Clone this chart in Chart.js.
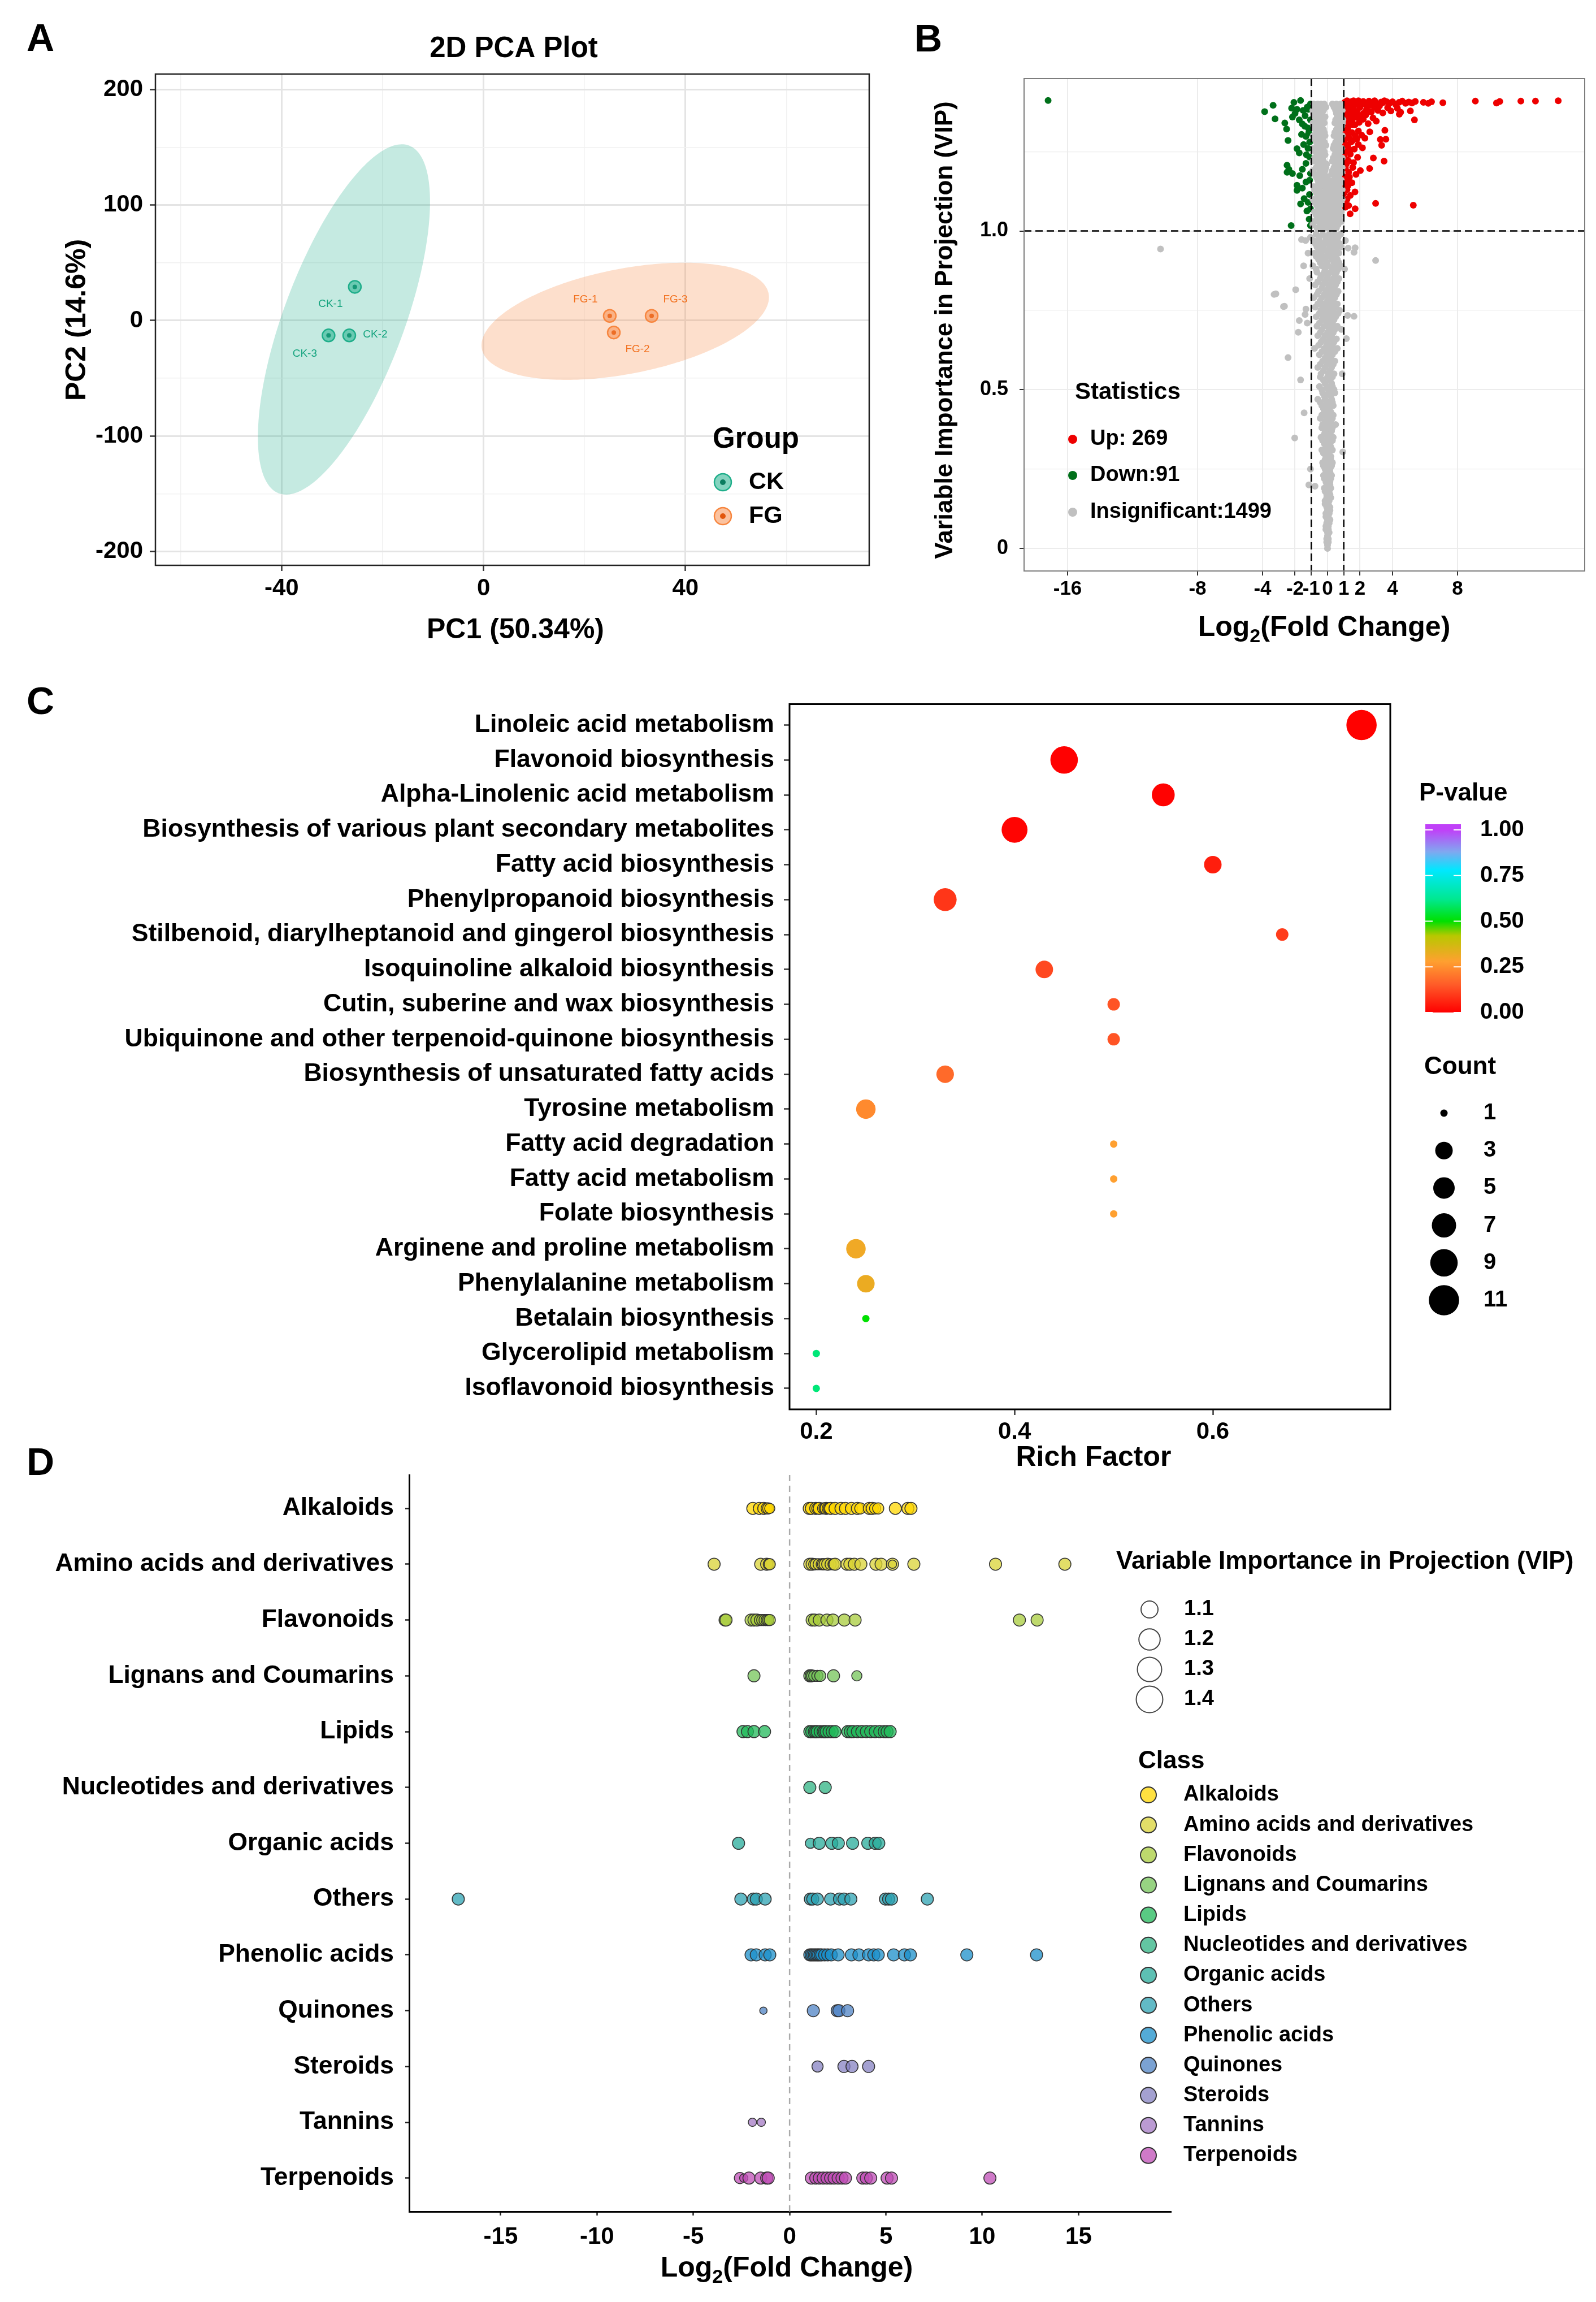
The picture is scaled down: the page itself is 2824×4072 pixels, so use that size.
<!DOCTYPE html>
<html>
<head>
<meta charset="utf-8">
<title>Metabolomics figure</title>
<script src="https://cdn.jsdelivr.net/npm/chart.js@4.4.1/dist/chart.umd.min.js"></script>
<style>
  html, body { margin:0; padding:0; background:#ffffff; }
  #figure { position:relative; width:2824px; height:4072px; background:#ffffff; overflow:hidden; }
  #figure canvas { position:absolute; }
</style>
</head>
<body>
<div id="figure">
  <canvas id="panelA" width="1580" height="1170" style="left:0px;top:0px;width:1580px;height:1170px"></canvas>
  <canvas id="panelB" width="1244" height="1170" style="left:1580px;top:0px;width:1244px;height:1170px"></canvas>
  <canvas id="panelC" width="2824" height="1440" style="left:0px;top:1180px;width:2824px;height:1440px"></canvas>
  <canvas id="panelD" width="2824" height="1532" style="left:0px;top:2540px;width:2824px;height:1532px"></canvas>
</div>
<script>
// ======================= DATA =======================
// ---- Panel A : PCA ----
const pcaSamples = ['CK-1','CK-2','CK-3','FG-1','FG-2','FG-3'];
const pcaGroups = ['CK','FG'];
const pcaGroupOf = ['CK','CK','CK','FG','FG','FG'];
const pc1Values = [-25.5,-26.6,-30.7,25.0,25.8,33.3];
const pc2Values = [29.1,-12.9,-12.9,4.0,-10.4,4.0];
const ellipseCentres = [[-27.65,0.9],[28.07,-0.7]];          // CK, FG
const ellipseSpreads = [[17.05,151.6,0.672],[28.47,50.7,0.41]]; // sdX, sdY, correlation
const pcaXTicks = [-60,-40,-20,0,20,40,60];
const pcaXLabelled = [-40,0,40];
const pcaYTicks = [-200,-150,-100,-50,0,50,100,150,200];
const pcaYLabelled = [-200,-100,0,100,200];

// ---- Panel B : VIP volcano ----
const volcanoXTicks = [-16,-8,-4,-2,-1,0,1,2,4,8];
const volcanoYTicks = [0,0.25,0.5,0.75,1.0,1.25];
const volcanoYLabelled = [0,0.5,1.0];
const volcanoYLabelText = ['0','0.5','1.0'];
const fcThresholds = [-1,1];
const vipThreshold = [1.0];
const statLabels = ['Up: 269','Down:91','Insignificant:1499'];
const upPoints = [
 [1.05,1.405],[1.2,1.41],[1.35,1.402],[1.5,1.408],[1.7,1.398],[1.9,1.41],[2.1,1.404],[2.3,1.4],[2.55,1.409],[2.8,1.403],
 [3.0,1.397],[3.3,1.406],[3.5,1.41],[3.8,1.401],[4.0,1.407],[4.2,1.398],[4.4,1.405],[4.6,1.409],[4.8,1.402],[5.0,1.406],
 [5.2,1.403],[5.4,1.408],[5.9,1.405],[6.2,1.402],[6.4,1.407],[7.1,1.404],[9.1,1.409],[10.4,1.403],[10.6,1.408],[11.9,1.409],
 [12.8,1.409],[14.2,1.41],
 [1.0,1.385],[1.15,1.378],[1.3,1.39],[1.45,1.372],[1.6,1.386],[1.8,1.376],[2.0,1.389],[2.2,1.37],[2.4,1.383],[2.7,1.375],
 [2.9,1.39],[3.1,1.38],[3.4,1.372],[3.7,1.388],[3.9,1.378],[4.3,1.386],[4.5,1.374],[5.1,1.378],[4.42,1.368],[2.6,1.395],
 [1.4,1.395],[3.2,1.394],
 [1.05,1.355],[1.2,1.34],[1.4,1.35],[1.55,1.335],[1.75,1.358],[1.95,1.342],[2.2,1.352],[2.5,1.338],[2.8,1.356],[3.0,1.346],
 [5.35,1.35],[1.1,1.33],[1.6,1.36],[2.35,1.365],[1.3,1.362],
 [1.0,1.318],[1.15,1.305],[1.3,1.295],[1.5,1.31],[1.7,1.3],[1.9,1.315],[2.1,1.302],[2.3,1.292],[2.6,1.312],[3.53,1.317],
 [3.25,1.288],[3.59,1.289],[1.25,1.325],
 [1.05,1.278],[1.25,1.265],[1.45,1.28],[1.65,1.258],[1.9,1.272],[2.15,1.262],[3.33,1.27],[1.1,1.25],
 [1.0,1.238],[1.2,1.225],[1.4,1.242],[1.6,1.215],[1.85,1.232],[2.82,1.23],[3.48,1.22],[1.15,1.21],
 [1.1,1.198],[1.3,1.185],[1.55,1.2],[1.75,1.178],[2.02,1.19],[2.59,1.197],[1.05,1.17],
 [1.05,1.158],[1.25,1.142],[1.5,1.152],[1.69,1.123],[1.2,1.13],
 [1.0,1.118],[1.2,1.1],[1.4,1.112],
 [1.1,1.075],[1.39,1.054],[2.96,1.087],[5.28,1.081],[1.7,1.07],
 [1.1,1.398],[1.25,1.395],[1.45,1.4],[1.6,1.41],[1.8,1.404],[2.0,1.398],[2.2,1.408],[2.45,1.4],[2.7,1.405],[2.9,1.41],
 [3.15,1.4],[3.4,1.404],[3.65,1.407],[1.05,1.37],[1.25,1.352],[1.5,1.345],[1.7,1.335],[1.85,1.365],[2.05,1.355],[2.5,1.375],
 [1.1,1.29],[1.35,1.31],[1.55,1.285],[1.8,1.29],[1.2,1.27],[1.4,1.255],[1.3,1.22],[1.05,1.2],[1.2,1.16],[1.35,1.17],
 [1.1,1.14],[1.05,1.09],[1.3,1.08]
];
const downPoints = [
 [-17.2,1.411],[-3.87,1.376],[-3.35,1.396],[-3.23,1.353],[-2.63,1.34],[-2.52,1.321],[-2.43,1.285],[-2.21,1.387],[-2.07,1.405],
 [-1.66,1.411],[-2.16,1.359],[-1.88,1.383],[-1.74,1.35],[-1.55,1.337],[-1.38,1.363],[-1.33,1.298],[-1.19,1.383],[-1.6,1.304],
 [-1.88,1.259],[-1.74,1.246],[-1.47,1.272],[-2.49,1.207],[-2.38,1.194],[-2.49,1.185],[-2.16,1.181],[-1.55,1.194],[-1.33,1.213],
 [-1.71,1.174],[-1.88,1.144],[-1.88,1.128],[-1.55,1.135],[-1.33,1.154],[-1.44,1.102],[-1.66,1.085],[-1.27,1.063],[-1.13,1.037],
 [-2.24,1.017],[-1.05,1.017],[-1.11,1.233],[-1.19,1.324],[-1.05,1.35],[-1.05,1.181],[-1.11,1.115],[-1.25,1.39],[-1.5,1.38],
 [-2.0,1.37],[-1.1,1.28],[-1.2,1.26],[-1.3,1.24],[-1.1,1.16],[-1.2,1.09],[-1.05,1.07],[-1.15,1.31],[-1.4,1.33],[-1.05,1.40]
];
// rows: [VIP, log2FC, log2FC, ...]
const insignificantRows = [
 [1.40,-0.85,-0.6,-0.4,-0.2,0.3,0.55,0.8],[1.38,-0.9,-0.7,-0.45,-0.25,0.5,0.7,0.9],[1.36,-0.8,-0.55,-0.3,-0.15,0.6,0.85],
 [1.34,-0.9,-0.65,-0.4,-0.2,0.45,0.7,0.92],[1.32,-0.75,-0.5,-0.25,0.55,0.8],[1.30,-0.88,-0.6,-0.35,-0.15,0.4,0.65,0.9],
 [1.28,-0.7,-0.45,-0.2,0.5,0.75],[1.26,-0.85,-0.55,-0.3,0.35,0.6,0.88],[1.24,-0.65,-0.4,-0.15,0.45,0.7],
 [1.22,-0.9,-0.5,-0.25,0.3,0.55,0.82],[1.20,-0.7,-0.35,-0.1,0.4,0.65,0.9],[1.18,-0.8,-0.55,-0.2,0.25,0.5,0.75],
 [1.16,-0.6,-0.3,0.05,0.35,0.6,0.85],[1.14,-0.85,-0.45,-0.15,0.2,0.45,0.7],[1.12,-0.7,-0.35,0.0,0.3,0.55,0.8],
 [1.10,-0.9,-0.5,-0.2,0.1,0.4,0.65,0.9],[1.08,-0.65,-0.35,-0.05,0.25,0.5,0.75],[1.06,-0.8,-0.5,-0.2,0.1,0.35,0.6,0.85],
 [1.04,-0.6,-0.3,0.0,0.25,0.5,0.72],[1.02,-0.9,-0.45,-0.15,0.15,0.4,0.65],[0.99,-0.7,-0.3,0.1,0.45,0.8],
 [0.97,-0.85,-0.5,-0.1,0.25,0.6],[0.95,-0.65,-0.25,0.15,0.5,0.85],[0.93,-0.8,-0.4,0.0,0.35,0.7],[0.91,-0.55,-0.15,0.25,0.6],
 [0.89,-0.9,-0.35,0.05,0.45,0.8],[0.87,-0.65,-0.2,0.2,0.55],[0.85,-0.45,-0.05,0.35,0.7],[0.83,-0.75,-0.3,0.1,0.5],
 [0.81,-0.55,-0.1,0.3,0.65],[0.79,-0.85,-0.35,0.05,0.45],[0.77,-0.6,-0.2,0.2,0.6],[0.75,-0.4,0.0,0.35,0.75],
 [0.73,-0.7,-0.25,0.15,0.5],[0.71,-0.5,-0.05,0.3],[0.69,-0.35,0.1,0.45,0.85],[0.67,-0.6,-0.15,0.25],[0.65,-0.4,0.0,0.4],
 [0.63,-0.8,-0.2,0.2,0.6],[0.61,-0.5,-0.05,0.3],[0.59,-0.3,0.1,0.45],[0.57,-0.6,-0.15,0.25],[0.55,-0.4,0.05,0.4,0.9],
 [0.53,-0.25,0.15],[0.51,-0.5,-0.05,0.3],[0.49,-0.3,0.1,0.45],[0.47,-0.6,-0.15,0.25],[0.45,-0.35,0.05,0.35],[0.43,-0.2,0.2],
 [0.41,-0.45,-0.05,0.3],[0.39,-0.3,0.1,0.5],[0.37,-0.15,0.25],[0.35,-0.4,0.0,0.35],[0.33,-0.2,0.15],[0.31,-0.35,0.05,0.3],
 [0.29,-0.1,0.2],[0.27,-0.3,0.0,0.3],[0.25,-0.15,0.15],[0.23,-0.25,0.05,0.25],[0.21,-0.1,0.15],[0.19,-0.2,0.05,0.2],
 [0.17,-0.05,0.15],[0.15,-0.15,0.1],[0.13,-0.05,0.15],[0.11,-0.1,0.1],[0.09,0.0,0.15],[0.07,-0.1,0.05],[0.05,0.0,0.1],
 [0.03,-0.05,0.05],[0.01,0.0],
 [1.39,-0.75,-0.5,-0.3,-0.1,0.4,0.65,0.85],[1.37,-0.85,-0.6,-0.35,0.55,0.78],[1.35,-0.7,-0.45,-0.25,0.5,0.75,0.95],
 [1.33,-0.85,-0.6,-0.35,0.65,0.88],[1.31,-0.65,-0.4,-0.2,0.45,0.7],[1.29,-0.8,-0.55,-0.3,0.6,0.85],
 [1.27,-0.6,-0.35,-0.1,0.4,0.68],[1.25,-0.75,-0.45,-0.2,0.5,0.8],[1.23,-0.8,-0.55,-0.3,0.35,0.6,0.9],
 [1.21,-0.6,-0.4,-0.05,0.5,0.75],[1.19,-0.9,-0.45,-0.15,0.3,0.6,0.85],[1.17,-0.7,-0.4,0.0,0.45,0.7],
 [1.15,-0.55,-0.25,0.1,0.5,0.78],[1.13,-0.8,-0.5,-0.1,0.2,0.6,0.9],[1.11,-0.6,-0.3,0.05,0.35,0.7],
 [1.09,-0.8,-0.45,-0.15,0.15,0.45,0.85],[1.07,-0.55,-0.25,0.05,0.4,0.65],[1.05,-0.7,-0.4,-0.1,0.2,0.5,0.78],
 [1.03,-0.8,-0.5,-0.2,0.1,0.35,0.6,0.85],[1.01,-0.65,-0.3,0.0,0.3,0.55],
 [0.98,-0.5,-0.1,0.3,0.65],[0.96,-0.75,-0.35,0.05,0.4,0.75],[0.94,-0.5,-0.15,0.25,0.55],[0.92,-0.7,-0.3,0.1,0.5],
 [0.90,-0.45,-0.05,0.4,0.7],[0.88,-0.7,-0.15,0.3,0.65],[0.86,-0.4,0.0,0.45],[0.84,-0.6,-0.15,0.25,0.6],
 [0.82,-0.35,0.05,0.4],[0.80,-0.65,-0.2,0.2,0.55],[0.78,-0.45,0.0,0.35],[0.76,-0.75,-0.3,0.1,0.5],
 [0.74,-0.5,-0.1,0.25,0.65],[0.72,-0.35,0.05,0.4],[0.70,-0.65,-0.2,0.2,0.6],[0.68,-0.45,0.0,0.35],
 [0.66,-0.25,0.15,0.55],[0.64,-0.55,-0.05,0.3],[0.62,-0.35,0.05,0.45],[0.60,-0.15,0.2],[0.58,-0.45,0.0,0.35],
 [0.56,-0.25,0.15],[0.54,-0.45,0.0,0.3],[0.52,-0.15,0.25],[0.50,-0.35,0.05,0.4],[0.48,-0.2,0.2],
 [0.46,-0.45,-0.05,0.3],[0.44,-0.25,0.1],[0.42,-0.35,0.0,0.35],[0.40,-0.15,0.2],[0.38,-0.35,0.0,0.3],
 [0.36,-0.2,0.15],[0.34,-0.3,0.05,0.3],[0.32,-0.1,0.2],[0.30,-0.25,0.05],[0.28,-0.15,0.2],[0.26,-0.25,0.0,0.25],
 [0.24,-0.1,0.15],[0.22,-0.2,0.05,0.2],[0.20,-0.05,0.15],[0.18,-0.15,0.1],[0.16,-0.05,0.2],[0.14,-0.15,0.05],
 [0.12,0.0,0.15],[0.10,-0.1,0.05],[0.08,-0.05,0.1],[0.06,-0.1,0.05],[0.04,0.0],[0.02,-0.05,0.05],[0.0,0.0]
];
const insignificantScatter = [
 [-10.28,0.943],[2.96,0.907],[-3.29,0.8],[-3.18,0.802],[-2.65,0.763],[-1.96,0.815],[-2.43,0.601],[-1.66,0.531],[-1.44,0.427],
 [-2.02,0.348],[1.24,0.734],[1.16,0.661],[1.27,0.946],[0.94,0.304],[-0.77,0.196],[-1.05,0.98],[-1.35,0.97],[-1.6,0.973],
 [1.1,0.97],[-1.2,0.93],[-1.47,0.89],[1.7,0.947],[1.63,0.933],[-2.71,0.762],[-1.74,0.718],[-1.8,0.681],[1.63,0.731],
 [-1.33,0.754],[-1.38,0.737],[-1.15,0.2],[-1.05,0.25],[-1.1,0.85],[1.05,0.88],[-1.25,0.71]
];

// ---- Panel C : KEGG enrichment ----
const pathways = ['Linoleic acid metabolism','Flavonoid biosynthesis','Alpha-Linolenic acid metabolism',
 'Biosynthesis of various plant secondary metabolites','Fatty acid biosynthesis','Phenylpropanoid biosynthesis',
 'Stilbenoid, diarylheptanoid and gingerol biosynthesis','Isoquinoline alkaloid biosynthesis',
 'Cutin, suberine and wax biosynthesis','Ubiquinone and other terpenoid-quinone biosynthesis',
 'Biosynthesis of unsaturated fatty acids','Tyrosine metabolism','Fatty acid degradation','Fatty acid metabolism',
 'Folate biosynthesis','Arginene and proline metabolism','Phenylalanine metabolism','Betalain biosynthesis',
 'Glycerolipid metabolism','Isoflavonoid biosynthesis'];
const richFactor = [0.75,0.45,0.55,0.40,0.60,0.33,0.67,0.43,0.50,0.50,0.33,0.25,0.50,0.50,0.50,0.24,0.25,0.25,0.20,0.20];
const pValues = [0.001,0.002,0.004,0.006,0.05,0.09,0.10,0.12,0.14,0.14,0.18,0.24,0.28,0.28,0.28,0.31,0.32,0.50,0.60,0.60];
const hitCounts = [11,9,6,8,3,6,2,3,2,2,3,4,1,1,1,4,3,1,1,1];
const richTicks = [0.2,0.4,0.6];
const pBreaks = [0,0.25,0.5,0.75,1.0];
const countBreaks = [1,3,5,7,9,11];

// ---- Panel D : classes, [log2FC, VIP] ----
const classNames = ['Alkaloids','Amino acids and derivatives','Flavonoids','Lignans and Coumarins','Lipids',
 'Nucleotides and derivatives','Organic acids','Others','Phenolic acids','Quinones','Steroids','Tannins','Terpenoids'];
const fcAlkaloids = [[-1.91,1.05],[-1.57,1.05],[-1.34,1.05],[-1.19,1.04],[-1.11,1.04],[-1.03,1.03],[1.02,1.05],[1.13,1.05],
 [1.36,1.05],[1.44,1.04],[1.54,1.05],[1.74,1.04],[1.82,1.04],[1.9,1.05],[1.98,1.04],[2.05,1.04],[2.13,1.05],[2.36,1.05],
 [2.67,1.05],[2.9,1.05],[3.21,1.05],[3.52,1.05],[3.67,1.04],[4.14,1.05],[4.29,1.05],[4.44,1.04],[4.6,1.04],[5.49,1.05],[6.14,1.05],[6.3,1.05]];
const fcAmino = [[-3.92,1.05],[-1.5,1.05],[-1.19,1.05],[-1.08,1.04],[-1.03,1.04],[1.05,1.05],[1.17,1.05],[1.28,1.04],[1.36,1.04],
 [1.51,1.04],[1.67,1.04],[1.74,1.04],[1.82,1.04],[1.98,1.05],[2.13,1.04],[2.28,1.04],[2.36,1.05],[2.98,1.05],[3.13,1.05],
 [3.36,1.05],[3.7,1.05],[4.48,1.05],[4.75,1.05],[5.34,1.05],[5.34,1.01],[6.45,1.05],[10.69,1.05],[14.29,1.05]];
const fcFlavonoids = [[-3.35,1.05],[-3.3,1.05],[-2.0,1.05],[-1.85,1.05],[-1.7,1.05],[-1.54,1.04],[-1.42,1.04],[-1.3,1.04],
 [-1.19,1.04],[-1.11,1.04],[-1.03,1.04],[1.17,1.05],[1.3,1.05],[1.54,1.05],[1.94,1.05],[2.25,1.05],[2.84,1.05],[3.4,1.05],
 [11.93,1.05],[12.85,1.05]];
const fcLignans = [[-1.85,1.05],[1.05,1.05],[1.12,1.05],[1.17,1.04],[1.28,1.04],[1.44,1.04],[1.59,1.04],[2.28,1.05],[3.49,1.03]];
const fcLipids = [[-2.42,1.05],[-2.19,1.05],[-1.85,1.05],[-1.3,1.05],[1.05,1.05],[1.15,1.05],[1.28,1.05],[1.36,1.05],[1.44,1.05],
 [1.59,1.05],[1.74,1.05],[1.82,1.05],[1.9,1.05],[2.05,1.05],[2.21,1.05],[2.36,1.05],[3.02,1.05],[3.15,1.05],[3.29,1.05],
 [3.52,1.05],[3.75,1.05],[3.98,1.05],[4.21,1.05],[4.44,1.05],[4.68,1.05],[4.91,1.05],[5.06,1.05],[5.22,1.05]];
const fcNucleotides = [[1.05,1.05],[1.85,1.05]];
const fcOrganic = [[-2.65,1.05],[1.08,1.03],[1.54,1.05],[2.19,1.05],[2.53,1.05],[3.27,1.05],[4.06,1.05],[4.44,1.05],[4.63,1.05]];
const fcOthers = [[-17.2,1.05],[-2.53,1.05],[-1.88,1.05],[-1.73,1.05],[-1.27,1.05],[1.08,1.05],[1.2,1.05],[1.44,1.05],
 [2.13,1.05],[2.59,1.05],[2.82,1.05],[3.18,1.05],[4.98,1.05],[5.14,1.05],[5.29,1.05],[7.15,1.05]];
const fcPhenolic = [[-2.0,1.05],[-1.73,1.05],[-1.27,1.05],[-1.03,1.05],[1.05,1.05],[1.12,1.05],[1.2,1.05],[1.28,1.05],
 [1.36,1.05],[1.44,1.05],[1.51,1.05],[1.59,1.05],[1.67,1.05],[1.82,1.05],[1.98,1.05],[2.16,1.05],[2.52,1.05],[3.21,1.05],
 [3.6,1.05],[4.1,1.05],[4.37,1.05],[4.6,1.05],[5.4,1.05],[5.96,1.05],[6.27,1.05],[9.2,1.05],[12.82,1.05]];
const fcQuinones = [[-1.36,1.0],[1.23,1.05],[2.47,1.05],[2.56,1.05],[3.01,1.05]];
const fcSteroids = [[1.45,1.04],[2.82,1.05],[3.24,1.05],[4.1,1.05]];
const fcTannins = [[-1.93,1.01],[-1.47,1.01]];
const fcTerpenoids = [[-2.58,1.04],[-2.38,1.01],[-2.11,1.05],[-1.5,1.05],[-1.19,1.05],[-1.11,1.05],[1.13,1.05],[1.36,1.05],
 [1.54,1.05],[1.74,1.05],[1.94,1.05],[2.13,1.05],[2.31,1.05],[2.52,1.05],[2.72,1.05],[2.9,1.05],[3.8,1.05],[3.98,1.05],
 [4.21,1.05],[5.06,1.05],[5.29,1.05],[10.4,1.05]];
const classSeries = [fcAlkaloids,fcAmino,fcFlavonoids,fcLignans,fcLipids,fcNucleotides,fcOrganic,fcOthers,fcPhenolic,
 fcQuinones,fcSteroids,fcTannins,fcTerpenoids];
const classXTicks = [-15,-10,-5,0,5,10,15];
const vipBreaks = [1.1,1.2,1.3,1.4];

// ======================= STYLE =======================
const FONT = '"Liberation Sans", Arial, Helvetica, sans-serif';
Chart.defaults.font.family = FONT;
Chart.defaults.font.weight = 'bold';
Chart.defaults.color = '#000000';
const groupStyle = {
  CK: {ring:'#1fae8a', fill:'rgba(31,174,138,0.55)', dot:'#0b7c5f', area:'rgba(31,174,138,0.26)', text:'#16a47f'},
  FG: {ring:'#f7863f', fill:'rgba(247,134,63,0.5)', dot:'#e2560c', area:'rgba(248,140,72,0.28)', text:'#f26f1c'}
};
const pcaLabelOffsets = [[-43,30],[46,-2],[-42,32],[-43,-29],[42,30],[42,-29]];
const pStops = [[0,'#ff0000'],[0.15,'#ff5a28'],[0.28,'#ffa030'],[0.42,'#b8c800'],[0.5,'#00e000'],[0.62,'#00e890'],
 [0.78,'#00e8ff'],[0.88,'#80a8f0'],[1,'#c040f8']];
const countSizeTable = [[1,6.5],[3,15.5],[5,19],[7,21.5],[9,24.3],[11,26.8]];
const vipSizeTable = [[1.0,6.5],[1.1,15],[1.2,18.8],[1.3,21.5],[1.4,23.5]];
const classColors = ['#ffd700','#d9d335','#a8cc3c','#74c458','#22b85a','#2fb383','#27ab9a','#2ea3b3','#1b8fc9',
 '#4f83c4','#8582c2','#a47ac4','#bf4db5'];

// ======================= HELPERS =======================
function hexRgb(h){ h=h.replace('#',''); return [parseInt(h.substr(0,2),16),parseInt(h.substr(2,2),16),parseInt(h.substr(4,2),16)]; }
function rgba(h,a){ const c=hexRgb(h); return `rgba(${c[0]},${c[1]},${c[2]},${a})`; }
function interp(table, v){
  if (v<=table[0][0]) return table[0][1];
  for (let i=1;i<table.length;i++){ if (v<=table[i][0]){ const t=(v-table[i-1][0])/(table[i][0]-table[i-1][0]); return table[i-1][1]+t*(table[i][1]-table[i-1][1]); } }
  return table[table.length-1][1];
}
function pColor(p){
  for (let i=1;i<pStops.length;i++){
    if (p<=pStops[i][0]){ const t=(p-pStops[i-1][0])/(pStops[i][0]-pStops[i-1][0]); const a=hexRgb(pStops[i-1][1]), b=hexRgb(pStops[i][1]);
      return `rgb(${Math.round(a[0]+t*(b[0]-a[0]))},${Math.round(a[1]+t*(b[1]-a[1]))},${Math.round(a[2]+t*(b[2]-a[2]))})`; }
  }
  return pStops[pStops.length-1][1];
}
function drawText(ctx, s, x, y, size, o){
  o = o || {};
  ctx.save();
  ctx.font = `${o.weight||'bold'} ${size}px ${FONT}`;
  ctx.fillStyle = o.color || '#000';
  ctx.textAlign = o.align || 'left';
  ctx.textBaseline = o.baseline || 'middle';
  ctx.translate(x, y);
  if (o.rot) ctx.rotate(o.rot);
  ctx.fillText(s, 0, 0);
  ctx.restore();
}
function drawLog2Title(ctx, cx, baseline, size){
  const sub = Math.round(size*0.68);
  ctx.save(); ctx.fillStyle='#000'; ctx.textBaseline='alphabetic'; ctx.textAlign='left';
  ctx.font=`bold ${size}px ${FONT}`; const w1=ctx.measureText('Log').width, w3=ctx.measureText('(Fold Change)').width;
  ctx.font=`bold ${sub}px ${FONT}`; const w2=ctx.measureText('2').width;
  let x = cx-(w1+w2+w3)/2;
  ctx.font=`bold ${size}px ${FONT}`; ctx.fillText('Log',x,baseline); x+=w1;
  ctx.font=`bold ${sub}px ${FONT}`; ctx.fillText('2',x,baseline+size*0.22); x+=w2;
  ctx.font=`bold ${size}px ${FONT}`; ctx.fillText('(Fold Change)',x,baseline);
  ctx.restore();
}
function circle(ctx,x,y,r,fill,stroke,lw){
  ctx.save(); ctx.beginPath(); ctx.arc(x,y,r,0,Math.PI*2);
  if (fill){ ctx.fillStyle=fill; ctx.fill(); }
  if (stroke){ ctx.strokeStyle=stroke; ctx.lineWidth=lw||2; ctx.stroke(); }
  ctx.restore();
}
function line(ctx,x1,y1,x2,y2,color,lw,dash){
  ctx.save(); ctx.beginPath(); ctx.strokeStyle=color; ctx.lineWidth=lw; ctx.setLineDash(dash||[]);
  ctx.moveTo(x1,y1); ctx.lineTo(x2,y2); ctx.stroke(); ctx.restore();
}
const isIn = (list) => (c) => !!(c.tick && list.includes(c.tick.value));
const baseOptions = { responsive:false, maintainAspectRatio:false, animation:false, events:[],
  plugins:{ legend:{display:false}, tooltip:{enabled:false} } };

// ======================= PANEL A =======================
(function(){
  const majX = isIn(pcaXLabelled), majY = isIn(pcaYLabelled);
  const ptsOf = g => pc1Values.map((x,i)=>({x, y:pc2Values[i]})).filter((_,i)=>pcaGroupOf[i]===g);
  const pluginA = {
    id:'pcaExtras',
    beforeDatasetsDraw(chart){
      const {ctx, chartArea:a, scales:{x:xs, y:ys}} = chart;
      ctx.save(); ctx.beginPath(); ctx.rect(a.left,a.top,a.right-a.left,a.bottom-a.top); ctx.clip();
      pcaGroups.forEach((g,k)=>{
        const [cx,cy]=ellipseCentres[k], [sx,sy,r]=ellipseSpreads[k];
        ctx.beginPath();
        for (let i=0;i<=240;i++){
          const t=i/240*Math.PI*2;
          const px=xs.getPixelForValue(cx+sx*Math.cos(t));
          const py=ys.getPixelForValue(cy+sy*(r*Math.cos(t)+Math.sqrt(1-r*r)*Math.sin(t)));
          if(i===0) ctx.moveTo(px,py); else ctx.lineTo(px,py);
        }
        ctx.closePath(); ctx.fillStyle=groupStyle[g].area; ctx.fill();
      });
      ctx.restore();
    },
    afterDraw(chart){
      const {ctx, chartArea:a, scales:{x:xs, y:ys}} = chart;
      pcaSamples.forEach((s,i)=>{
        const px=xs.getPixelForValue(pc1Values[i]), py=ys.getPixelForValue(pc2Values[i]);
        drawText(ctx,s,px+pcaLabelOffsets[i][0],py+pcaLabelOffsets[i][1],19,{weight:'normal',align:'center',color:groupStyle[pcaGroupOf[i]].text});
      });
      ctx.save(); ctx.strokeStyle='#222'; ctx.lineWidth=2.5; ctx.strokeRect(a.left,a.top,a.right-a.left,a.bottom-a.top); ctx.restore();
      drawText(ctx,'A',47,71,68);
      drawText(ctx,'2D PCA Plot',909,87,51,{align:'center'});
      drawText(ctx,'PC2 (14.6%)',137,566,50,{align:'center',rot:-Math.PI/2});
      drawText(ctx,'PC1 (50.34%)',912,1115,50,{align:'center'});
      drawText(ctx,'Group',1261,778,51);
      pcaGroups.forEach((g,k)=>{
        const y=[853,913][k];
        circle(ctx,1279,y,15,groupStyle[g].fill,groupStyle[g].ring,2.5);
        circle(ctx,1279,y,5,groupStyle[g].dot);
        drawText(ctx,g,1325,y,43);
      });
    }
  };
  new Chart(document.getElementById('panelA'), {
    type:'scatter',
    data:{ datasets:[
      ...pcaGroups.map(g=>({ data:ptsOf(g), pointRadius:11, backgroundColor:groupStyle[g].fill, borderColor:groupStyle[g].ring, borderWidth:2.5 })),
      ...pcaGroups.map(g=>({ data:ptsOf(g), pointRadius:4, backgroundColor:groupStyle[g].dot, borderWidth:0 }))
    ]},
    options:{ ...baseOptions,
      layout:{ padding:{left:0, top:131, right:42, bottom:0}, autoPadding:false },
      scales:{
        x:{ type:'linear', min:-65, max:76.4,
          afterBuildTicks:s=>{ s.ticks=pcaXTicks.map(v=>({value:v})); },
          afterFit:s=>{ s.height=170; },
          ticks:{ autoSkip:false, maxRotation:0, padding:6, font:{size:42,weight:'bold'}, color:'#000',
            callback:v=>pcaXLabelled.includes(v)?String(v):'' },
          grid:{ color:c=>majX(c)?'#e4e4e4':'#f1f1f1', lineWidth:c=>majX(c)?3:1.5, tickLength:10,
            tickColor:c=>majX(c)?'#333':'rgba(0,0,0,0)', tickWidth:2.5 },
          border:{display:false} },
        y:{ type:'linear', min:-211.9, max:213.3,
          afterBuildTicks:s=>{ s.ticks=pcaYTicks.map(v=>({value:v})); },
          afterFit:s=>{ s.width=275; },
          ticks:{ autoSkip:false, padding:12, font:{size:42,weight:'bold'}, color:'#000',
            callback:v=>pcaYLabelled.includes(v)?String(v):'' },
          grid:{ color:c=>majY(c)?'#e4e4e4':'#f1f1f1', lineWidth:c=>majY(c)?3:1.5, tickLength:10,
            tickColor:c=>majY(c)?'#333':'rgba(0,0,0,0)', tickWidth:2.5 },
          border:{display:false} }
      } },
    plugins:[pluginA]
  });
})();

// ======================= PANEL B =======================
(function(){
  const grayPts = [];
  insignificantRows.forEach(r=>{ for(let i=1;i<r.length;i++) grayPts.push({x:r[i], y:r[0]}); });
  insignificantScatter.forEach(p=>grayPts.push({x:p[0], y:p[1]}));
  const majY = isIn(volcanoYLabelled);
  const statColors = ['#ee0000','#00701a','#c0c0c0'];
  const pluginB = {
    id:'volcanoExtras',
    afterDatasetsDraw(chart){
      const {ctx, chartArea:a, scales:{x:xs, y:ys}} = chart;
      fcThresholds.forEach(v=>{ const px=xs.getPixelForValue(v); line(ctx,px,a.top,px,a.bottom,'#000',2.5,[13,7]); });
      vipThreshold.forEach(v=>{ const py=ys.getPixelForValue(v); line(ctx,a.left,py,a.right,py,'#000',2.5,[13,7]); });
    },
    afterDraw(chart){
      const {ctx, chartArea:a} = chart;
      ctx.save(); ctx.strokeStyle='#7d7d7d'; ctx.lineWidth=2; ctx.strokeRect(a.left,a.top,a.right-a.left,a.bottom-a.top); ctx.restore();
      drawText(ctx,'B',38,72,68);
      drawText(ctx,'Variable Importance in Projection (VIP)',93,584,44,{align:'center',rot:-Math.PI/2});
      drawLog2Title(ctx,763,1125,50);
      drawText(ctx,'Statistics',322,694,42);
      statLabels.forEach((s,i)=>{ const y=[777,841,906][i]; circle(ctx,318,y,8,statColors[i]); drawText(ctx,s,349,y,38); });
    }
  };
  new Chart(document.getElementById('panelB'), {
    type:'scatter',
    data:{ datasets:[
      { data:grayPts, pointRadius:6, backgroundColor:'#c0c0c0', borderWidth:0 },
      { data:downPoints.map(p=>({x:p[0],y:p[1]})), pointRadius:6, backgroundColor:'#00701a', borderWidth:0 },
      { data:upPoints.map(p=>({x:p[0],y:p[1]})), pointRadius:6, backgroundColor:'#ee0000', borderWidth:0 }
    ]},
    options:{ ...baseOptions,
      layout:{ padding:{left:0, top:139, right:20, bottom:0}, autoPadding:false },
      scales:{
        x:{ type:'linear', min:-18.68, max:15.83,
          afterBuildTicks:s=>{ s.ticks=volcanoXTicks.map(v=>({value:v})); },
          afterFit:s=>{ s.height=160; },
          ticks:{ autoSkip:false, maxRotation:0, padding:3, font:{size:35,weight:'bold'}, color:'#000', callback:v=>String(v) },
          grid:{ color:'#ececec', lineWidth:2, tickLength:8, tickColor:'#333', tickWidth:2 },
          border:{display:false} },
        y:{ type:'linear', min:-0.071, max:1.48,
          afterBuildTicks:s=>{ s.ticks=volcanoYTicks.map(v=>({value:v})); },
          afterFit:s=>{ s.width=232; },
          ticks:{ autoSkip:false, padding:20, font:{size:36,weight:'bold'}, color:'#000',
            callback:v=>{ const k=volcanoYLabelled.indexOf(v); return k>=0?volcanoYLabelText[k]:''; } },
          grid:{ color:'#ececec', lineWidth:c=>majY(c)?2:1.2, tickLength:8, tickColor:c=>majY(c)?'#333':'rgba(0,0,0,0)', tickWidth:2 },
          border:{display:false} }
      } },
    plugins:[pluginB]
  });
})();

// ======================= PANEL C =======================
(function(){
  const oy = 1180;
  const rCount = c => interp(countSizeTable, c);
  const pluginC = {
    id:'enrichExtras',
    afterDraw(chart){
      const {ctx, chartArea:a} = chart;
      ctx.save(); ctx.strokeStyle='#000'; ctx.lineWidth=3; ctx.strokeRect(a.left,a.top,a.right-a.left,a.bottom-a.top); ctx.restore();
      drawText(ctx,'C',47,1244-oy,68);
      drawText(ctx,'Rich Factor',1935,2579-oy,50,{align:'center'});
      const bx=2522, bw=63, bBot=1791-oy, bTop=1458-oy, span=323;
      const g=ctx.createLinearGradient(0,bBot,0,bBot-span);
      pStops.forEach(s=>g.addColorStop(s[0],s[1]));
      ctx.save(); ctx.fillStyle=g; ctx.fillRect(bx,bTop,bw,bBot-bTop); ctx.restore();
      drawText(ctx,'P-value',2511,1404-oy,44);
      pBreaks.forEach(v=>{
        const y=bBot-v*span;
        line(ctx,bx,y,bx+13,y,'#ffffff',2); line(ctx,bx+bw-13,y,bx+bw,y,'#ffffff',2);
        drawText(ctx,v.toFixed(2),2619,y,40);
      });
      drawText(ctx,'Count',2520,1888-oy,44);
      countBreaks.forEach((c,i)=>{ const y=1969+i*66.2-oy; circle(ctx,2555,y,rCount(c),'#000'); drawText(ctx,String(c),2625,y,40); });
    }
  };
  new Chart(document.getElementById('panelC'), {
    type:'scatter',
    data:{ datasets:[{ data:pathways.map((_,i)=>({x:richFactor[i], y:i})),
      pointRadius:c=>rCount(hitCounts[c.dataIndex]), backgroundColor:c=>pColor(pValues[c.dataIndex]), borderWidth:0 }]},
    options:{ ...baseOptions,
      layout:{ padding:{left:0, top:65.5, right:364, bottom:0}, autoPadding:false },
      scales:{
        x:{ type:'linear', min:0.173, max:0.779,
          afterBuildTicks:s=>{ s.ticks=richTicks.map(v=>({value:v})); },
          afterFit:s=>{ s.height=127; },
          ticks:{ autoSkip:false, maxRotation:0, padding:5, font:{size:42,weight:'bold'}, color:'#000', callback:v=>v.toFixed(1) },
          grid:{ drawOnChartArea:false, tickLength:10, tickColor:'#333', tickWidth:2.5 },
          border:{display:false} },
        y:{ type:'linear', min:-0.6, max:19.6, reverse:true,
          afterBuildTicks:s=>{ s.ticks=pathways.map((_,i)=>({value:i})); },
          afterFit:s=>{ s.width=1397; },
          ticks:{ autoSkip:false, padding:17, font:{size:44.6,weight:'bold'}, color:'#000', callback:v=>pathways[v] },
          grid:{ drawOnChartArea:false, tickLength:10, tickColor:'#333', tickWidth:2.5 },
          border:{display:false} }
      } },
    plugins:[pluginC]
  });
})();

// ======================= PANEL D =======================
(function(){
  const oy = 2540;
  const rVip = v => interp(vipSizeTable, v);
  const pluginD = {
    id:'classExtras',
    beforeDatasetsDraw(chart){
      const {ctx, chartArea:a, scales:{x:xs}} = chart;
      const px=xs.getPixelForValue(0);
      line(ctx,px,a.top,px,a.bottom,'#aaaaaa',2.5,[11,8]);
    },
    afterDraw(chart){
      const {ctx} = chart;
      drawText(ctx,'D',47,2590-oy,68);
      drawLog2Title(ctx,1392,4027-oy,50);
      drawText(ctx,'Variable Importance in Projection (VIP)',1975,2763-oy,44);
      vipBreaks.forEach((v,i)=>{ const y=2847+i*53-oy; circle(ctx,2034,y,rVip(v),null,'#444',2); drawText(ctx,v.toFixed(1),2095,y,38); });
      drawText(ctx,'Class',2014,3116-oy,44);
      classNames.forEach((n,i)=>{ const y=3175+i*53.15-oy; circle(ctx,2032,y,14,rgba(classColors[i],0.75),'#333',2); drawText(ctx,n,2094,y,38); });
    }
  };
  new Chart(document.getElementById('panelD'), {
    type:'scatter',
    data:{ datasets: classSeries.map((arr,i)=>({
      data:arr.map(p=>({x:p[0], y:i, v:p[1]})),
      pointRadius:c=>rVip(c.raw.v), backgroundColor:rgba(classColors[i],0.75), borderColor:'#333', borderWidth:1.5 })) },
    options:{ ...baseOptions,
      layout:{ padding:{left:0, top:69, right:752, bottom:0}, autoPadding:false },
      scales:{
        x:{ type:'linear', min:-19.75, max:19.8,
          afterBuildTicks:s=>{ s.ticks=classXTicks.map(v=>({value:v})); },
          afterFit:s=>{ s.height=160; },
          ticks:{ autoSkip:false, maxRotation:0, padding:13, font:{size:42,weight:'bold'}, color:'#000', callback:v=>String(v) },
          grid:{ drawOnChartArea:false, tickLength:7, tickColor:'#222', tickWidth:2.5 },
          border:{display:true, color:'#000', width:3} },
        y:{ type:'linear', min:-0.6, max:12.6, reverse:true,
          afterBuildTicks:s=>{ s.ticks=classNames.map((_,i)=>({value:i})); },
          afterFit:s=>{ s.width=724; },
          ticks:{ autoSkip:false, padding:20, font:{size:44.4,weight:'bold'}, color:'#000', callback:v=>classNames[v] },
          grid:{ drawOnChartArea:false, tickLength:7, tickColor:'#222', tickWidth:2.5 },
          border:{display:true, color:'#000', width:3} }
      } },
    plugins:[pluginD]
  });
})();
</script>
</body>
</html>
